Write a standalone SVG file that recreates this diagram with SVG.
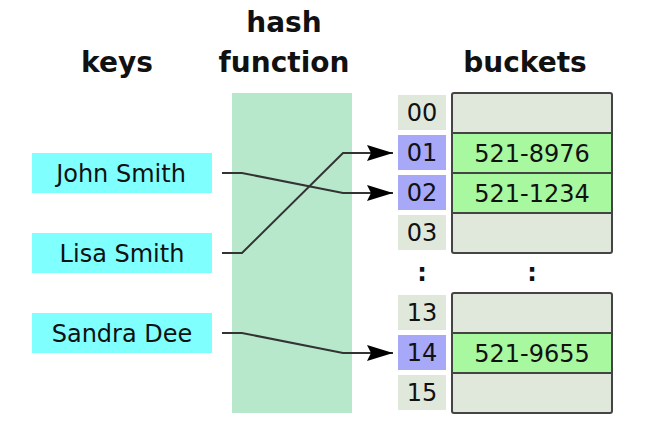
<svg xmlns="http://www.w3.org/2000/svg" width="648" height="440" viewBox="0 0 648 440">
<defs>
<style>
.t{font-family:"DejaVu Sans","Liberation Sans",sans-serif;fill:#111;text-anchor:middle}
.title{font-size:28px;font-weight:bold}
.lbl{font-size:24px}
.key{fill:#80ffff}
.idx{fill:#e0e8dc}
.hit{fill:#a8a8f8}
.bk{fill:#e0e8dc;stroke:#444;stroke-width:2}
.full{fill:#a8f8a0;stroke:#444;stroke-width:2}
.con{fill:none;stroke:#333;stroke-width:2}
</style>
<marker id="ah" markerWidth="14" markerHeight="8" refX="13" refY="4" orient="auto" markerUnits="strokeWidth">
<path d="M0,0 L13,4 L0,8 L2,4 z" fill="#000"/>
</marker>
</defs>
<rect width="648" height="440" fill="#fff"/>
<g id="titles">
<text class="t title" x="117" y="72">keys</text>
<text class="t title" x="284" y="32">hash</text>
<text class="t title" x="284" y="72">function</text>
<text class="t title" x="525" y="72">buckets</text>
</g>
<g id="hash"><rect x="232" y="93" width="120" height="320" fill="#b8e8cc"/></g>
<g id="key-john"><rect class="key" x="32" y="153" width="180" height="40"/><text class="t lbl" x="121" y="182">John Smith</text></g>
<g id="key-lisa"><rect class="key" x="32" y="233" width="180" height="40"/><text class="t lbl" x="122" y="262">Lisa Smith</text></g>
<g id="key-sandra"><rect class="key" x="32" y="313" width="180" height="40"/><text class="t lbl" x="122" y="342">Sandra Dee</text></g>
<g id="index">
<rect class="idx" x="398" y="95" width="48" height="35"/><text class="t lbl" x="422" y="121">00</text>
<rect class="hit" x="398" y="135" width="48" height="35"/><text class="t lbl" x="422" y="161">01</text>
<rect class="hit" x="398" y="175" width="48" height="35"/><text class="t lbl" x="422" y="201">02</text>
<rect class="idx" x="398" y="215" width="48" height="35"/><text class="t lbl" x="422" y="241">03</text>
<rect class="idx" x="398" y="295" width="48" height="35"/><text class="t lbl" x="422" y="321">13</text>
<rect class="hit" x="398" y="335" width="48" height="35"/><text class="t lbl" x="422" y="361">14</text>
<rect class="idx" x="398" y="375" width="48" height="35"/><text class="t lbl" x="422" y="401">15</text>
<text class="t lbl" x="422" y="281" font-weight="bold">:</text>
<text class="t lbl" x="532" y="281" font-weight="bold">:</text>
</g>
<g id="buckets-top">
<rect class="bk" x="452" y="93" width="160" height="160" rx="2"/>
<rect class="full" x="452" y="133" width="160" height="40"/>
<rect class="full" x="452" y="173" width="160" height="40"/>
<text class="t lbl" x="532" y="162">521-8976</text>
<text class="t lbl" x="532" y="202">521-1234</text>
</g>
<g id="buckets-bottom">
<rect class="bk" x="452" y="293" width="160" height="120" rx="2"/>
<rect class="full" x="452" y="333" width="160" height="40"/>
<text class="t lbl" x="532" y="362">521-9655</text>
</g>
<g id="connectors">
<path class="con" d="M222,173 L242,173 L343,193 L393,193" marker-end="url(#ah)"/>
<path class="con" d="M222,253 L242,253 L343,153 L393,153" marker-end="url(#ah)"/>
<path class="con" d="M222,333 L242,333 L343,353 L393,353" marker-end="url(#ah)"/>
</g>
</svg>
